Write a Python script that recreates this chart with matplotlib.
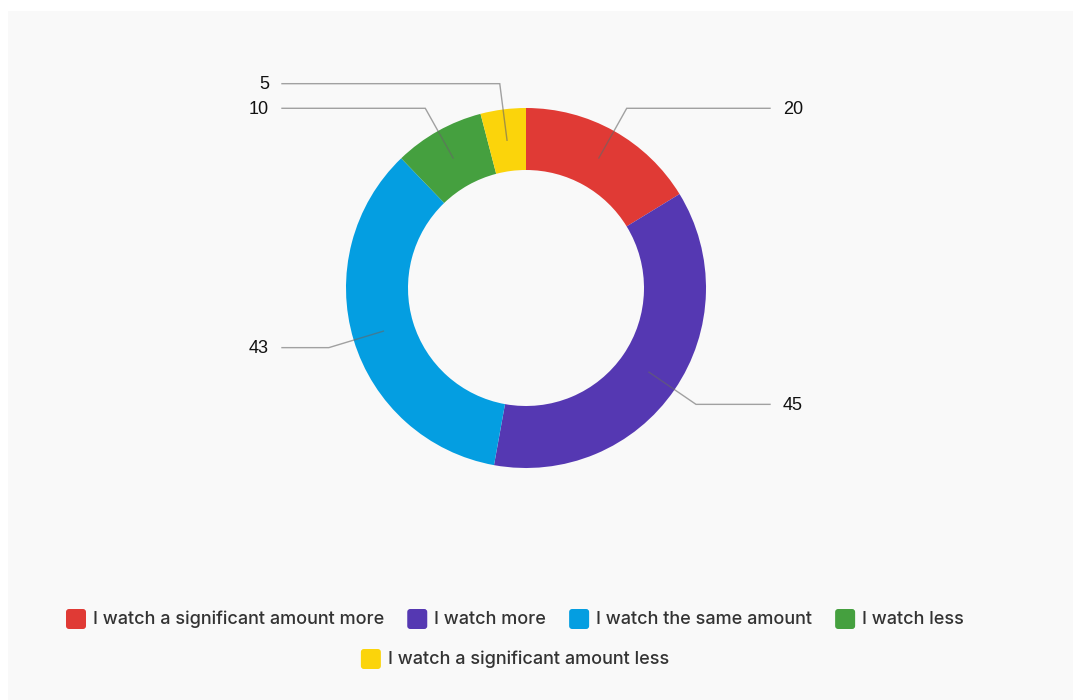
import numpy as np
import matplotlib
matplotlib.use("Agg")
import matplotlib.pyplot as plt
from matplotlib.patches import FancyBboxPatch, Rectangle

# survey answers
categories = [
    "I watch a significant amount more",
    "I watch more",
    "I watch the same amount",
    "I watch less",
    "I watch a significant amount less",
]
counts = [20, 45, 43, 10, 5]
colors = ["#e03a35", "#5538b2", "#049ee1", "#45a03f", "#fbd40b"]

W, H = 1073, 700
fig = plt.figure(figsize=(W / 100, H / 100), dpi=100)
fig.patch.set_facecolor("white")
ax = fig.add_axes([0, 0, 1, 1])

# light panel behind everything
ax.add_patch(Rectangle((8, 0), W - 8, H - 11, facecolor="#f9f9f9",
                       edgecolor="none", zorder=0))

cx, cy = 526, H - 288
r_out, ring = 180, 62
wedges, _ = ax.pie(counts, colors=colors, startangle=90, counterclock=False,
                   center=(cx, cy), radius=r_out,
                   wedgeprops=dict(width=ring, edgecolor="none"),
                   frame=True)
ax.set_xlim(0, W)
ax.set_ylim(0, H)
ax.set_aspect("equal")
ax.axis("off")

# leader lines + value labels
r_pt, r_elb, x_end, x_txt = 149, 206, 244, 257
for w, val in zip(wedges, counts):
    a = np.deg2rad((w.theta1 + w.theta2) / 2)
    px, py = cx + r_pt * np.cos(a), cy + r_pt * np.sin(a)
    ex, ey = cx + r_elb * np.cos(a), cy + r_elb * np.sin(a)
    side = 1 if np.cos(a) >= 0 else -1
    hx = cx + side * x_end
    ax.plot([px, ex, hx], [py, ey, ey], color="#666666", lw=1, alpha=0.6,
            zorder=5, solid_joinstyle="miter")
    ax.text(cx + side * x_txt, ey - 1, str(val), ha="left" if side > 0 else "right",
            va="center", fontsize=13, family="Liberation Sans", color="#111111",
            zorder=6)

# legend, two centred rows
rows = [[0, 1, 2, 3], [4]]
row_y = [H - 619, H - 659]
leg_cx = 515
box, gap_txt, gap_item = 20, 7, 23
fig.canvas.draw()
rend = fig.canvas.get_renderer()
for idxs, y in zip(rows, row_y):
    items = []
    for i in idxs:
        t = ax.text(0, y, categories[i], ha="left", va="center", fontsize=13,
                    family="Inter", fontweight="medium", color="#333333", zorder=6)
        wpx = t.get_window_extent(renderer=rend).width
        items.append((i, t, wpx))
    total = sum(box + gap_txt + wpx for _, _, wpx in items) + gap_item * (len(items) - 1)
    x = leg_cx - total / 2
    for i, t, wpx in items:
        ax.add_patch(FancyBboxPatch((x + 3, y - box / 2 + 3), box - 6, box - 6,
                                    boxstyle="round,pad=3", facecolor=colors[i],
                                    edgecolor="none", zorder=6))
        t.set_x(x + box + gap_txt)
        x += box + gap_txt + wpx + gap_item

fig.savefig("out.png", dpi=100, facecolor="white")
